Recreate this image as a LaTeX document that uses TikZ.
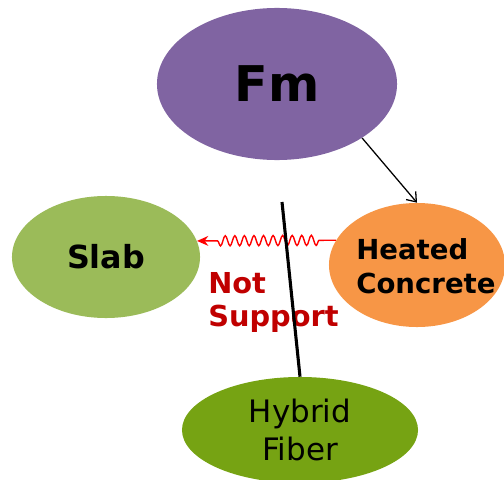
\documentclass[tikz,border=0pt]{standalone}
\usepackage{fontspec}
\setmainfont{DejaVu Sans}
\usetikzlibrary{shapes.geometric, arrows.meta, decorations.pathmorphing}
\definecolor{fmpurple}{HTML}{8064A2}
\definecolor{slabgreen}{HTML}{9BBB59}
\definecolor{heatorange}{HTML}{F79646}
\definecolor{fibergreen}{HTML}{76A313}
\definecolor{notred}{HTML}{C00000}

\begin{document}
\begin{tikzpicture}[
    x=0.025cm, y=-0.025cm,
    blob/.style={ellipse, fill=#1, draw=none, inner sep=0pt, align=center},
    arrow/.style={-{Straight Barb[length=6pt, width=9pt]}, line width=0.9pt, color=black},
    wave/.style={-{Stealth[length=8pt, width=7pt]}, line width=1pt, color=red,
                 decorate, decoration={snake, amplitude=3.6pt, segment length=6.8pt,
                 pre length=12pt, post length=12pt}},
    cutline/.style={line width=2.2pt, color=black}
]
\useasboundingbox (0,0) rectangle (504,479);

\node[blob=fmpurple, minimum width=6cm, minimum height=3.8cm,
      font=\bfseries\fontsize{35}{40}\selectfont] (fm) at (277,84) {Fm};
\node[blob=slabgreen, minimum width=4.7cm, minimum height=3.05cm,
      font=\bfseries\fontsize{22.6}{26}\selectfont] (slab) at (106,257) {Slab};
\node[blob=heatorange, minimum width=4.4cm, minimum height=3.1cm] (heat) at (417,265) {};
\node[blob=fibergreen, minimum width=5.9cm, minimum height=2.65cm,
      font=\fontsize{22}{27.6}\selectfont] (hyb) at (300,430) {Hybrid\\Fiber};

\node[anchor=west, inner sep=0pt, align=left,
      font=\bfseries\fontsize{19.6}{24}\selectfont] (heattxt) at (356,266) {Heated\\Concrete};
\node[anchor=north west, inner sep=0pt, align=left, text=notred,
      font=\bfseries\fontsize{20.5}{23.5}\selectfont] (notsup) at (208,272) {Not\\Support};

\draw[arrow] (fm.south east) -- (heat.north);

% heat does not reach the slab
\draw[wave] (heat.163) -- (slab.10);

\coordinate (cuttop) at (282,202);
\draw[cutline] (cuttop) -- (hyb.north);

\end{tikzpicture}
\end{document}
